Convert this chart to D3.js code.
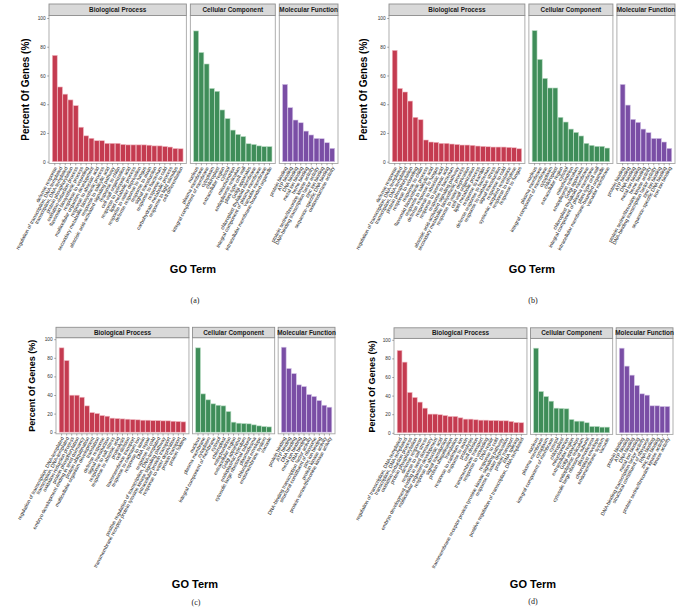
<!DOCTYPE html>
<html><head><meta charset="utf-8">
<script src="https://cdn.jsdelivr.net/npm/d3@7"></script>
<style>body{margin:0;background:#fff} svg{display:block}</style>
</head><body>
<svg id="chart" width="685" height="614"></svg>
<script>
// ---------- DATA ----------
const facetNames = ["Biological Process", "Cellular Component", "Molecular Function"];
const yTicks = [0, 20, 40, 60, 80, 100];
const captions = ["(a)", "(b)", "(c)", "(d)"];

const aBPTerms = ["defense response","regulation of transcription, DNA-templated","transcription, DNA-templated","protein phosphorylation","oxidation-reduction process","flavonoid biosynthetic process","response to wounding","multicellular organism development","response to abscisic acid","secondary metabolite biosynthetic process","response to salicylic acid","abscisic acid-activated signaling pathway","response to chitin","cell wall organization","response to jasmonic acid","lipid metabolic process","response to water deprivation","defense response to fungus","response to auxin","signal transduction","response to bacterium","response to cold","carbohydrate metabolic process","response to light stimulus","cell differentiation"];
const aBPValues = [74,52,47,43,39,24,18,16.3,14.6,14.6,12.8,12.8,12.8,12,11.7,11.7,11.7,11.7,11.5,11,11,10.6,10.2,9.2,9];
const aCCTerms = ["nucleus","plasma membrane","integral component of membrane","cytoplasm","chloroplast","extracellular region","cytosol","mitochondrion","endoplasmic reticulum","plant-type cell wall","Golgi apparatus","chloroplast thylakoid membrane","integral component of plasma membrane","vacuolar membrane","intracellular membrane-bounded organelle"];
const aCCValues = [91,76,68,51,49,36,30,22,19,17.5,12.5,12,11,10.5,10.5];
const aMFTerms = ["protein binding","ATP binding","DNA binding","metal ion binding","heme binding","protein serine/threonine kinase activity","DNA-binding transcription factor activity","zinc ion binding","sequence-specific DNA binding","oxidoreductase activity"];
const aMFValues = [53.8,37.6,29,27.1,21.3,18.6,16.2,16,13.2,9.3];

const bBPTerms = ["defense response","regulation of transcription, DNA-templated","transcription, DNA-templated","protein phosphorylation","response to wounding","response to chitin","flavonoid biosynthetic process","response to salicylic acid","defense response to fungus","response to abscisic acid","response to jasmonic acid","response to bacterium","abscisic acid-activated signaling pathway","secondary metabolite biosynthetic process","response to water deprivation","cell wall organization","lipid metabolic process","response to karrikin","defense response to bacterium","response to oxidative stress","signal transduction","response to cold","systemic acquired resistance","response to ethylene","response to fungus"];
const bBPValues = [77.5,51,48.5,42.2,30.9,29.2,15.1,13.7,13.5,12.8,12.8,12.3,12,11.6,11.6,11.4,10.9,10.7,10.4,10.2,10.2,10.2,10,9.7,9];
const bCCTerms = ["nucleus","plasma membrane","integral component of membrane","cytoplasm","chloroplast","extracellular region","cytosol","mitochondrion","endoplasmic reticulum","Golgi apparatus","chloroplast thylakoid membrane","integral component of plasma membrane","plant-type cell wall","intracellular membrane-bounded organelle","vacuolar membrane"];
const bCCValues = [91.2,71.2,58,51.3,51.3,30.9,27.6,22.7,20.4,17.9,12.8,11.4,10.7,10.7,9.5];
const bMFTerms = ["protein binding","ATP binding","DNA binding","metal ion binding","heme binding","protein serine/threonine kinase activity","DNA-binding transcription factor activity","zinc ion binding","sequence-specific DNA binding","iron ion binding"];
const bMFValues = [53.8,39.4,29.5,27.4,22.7,20.2,16.2,16.2,13.7,9.3];

const cBPTerms = ["regulation of transcription, DNA-templated","transcription, DNA-templated","oxidation-reduction process","protein phosphorylation","embryo development ending in seed dormancy","protein ubiquitination","multicellular organism development","translation","defense response","signal transduction","response to salt stress","response to abscisic acid","proteolysis","cell division","transmembrane transport","response to cadmium ion","response to auxin","DNA repair","response to cold","positive regulation of transcription, DNA-templated","transmembrane receptor protein tyrosine kinase signaling pathway","intracellular protein transport","response to water deprivation","protein transport","protein folding"];
const cBPValues = [90.7,77,39.8,39.8,37.6,28.3,21.1,20.1,17.9,17.2,15.1,14.7,14.3,14,13.6,13.3,12.9,12.9,12.5,12.5,12.2,12.2,11.8,11.5,11.1];
const cCCTerms = ["nucleus","plasma membrane","cytoplasm","integral component of membrane","cytosol","chloroplast","mitochondrion","extracellular region","Golgi apparatus","endoplasmic reticulum","cytosolic large ribosomal subunit","plasmodesma","chloroplast envelope","endomembrane system","vacuole"];
const cCCValues = [90.7,41.2,34.8,30.5,29,28.3,22.2,10.8,9.7,9.3,9,7.9,6.8,6.1,5.7];
const cMFTerms = ["protein binding","ATP binding","DNA binding","metal ion binding","RNA binding","DNA-binding transcription factor activity","structural constituent of ribosome","zinc ion binding","protein kinase activity","protein serine/threonine kinase activity"];
const cMFValues = [91.4,68.5,63,50.9,49.1,40.5,38.4,34,29,26.9];

const dBPTerms = ["regulation of transcription, DNA-templated","transcription, DNA-templated","oxidation-reduction process","protein phosphorylation","defense response","response to salt stress","embryo development ending in seed dormancy","multicellular organism development","response to abscisic acid","signal transduction","protein ubiquitination","translation","response to cadmium ion","response to auxin","proteolysis","cell division","transmembrane transport","response to wounding","DNA repair","response to cold","transmembrane receptor protein tyrosine kinase signaling pathway","response to water deprivation","protein transport","RNA splicing","positive regulation of transcription, DNA-templated"];
const dBPValues = [88.5,76,43.4,38,33,26.5,20.1,20.1,19.4,18.6,17.6,17.6,16.1,14.7,14.7,14,13.6,13.6,13.3,13.3,12.9,12.9,12.2,11.1,10.8];
const dCCTerms = ["nucleus","plasma membrane","cytoplasm","integral component of membrane","cytosol","chloroplast","mitochondrion","extracellular region","Golgi apparatus","endoplasmic reticulum","cytosolic large ribosomal subunit","plasmodesma","chloroplast envelope","endomembrane system","vacuole"];
const dCCValues = [91,44.4,39,34,26.5,26.2,25.8,14.3,12.5,12.5,10.8,6.8,6.8,6.1,6.1];
const dMFTerms = ["protein binding","ATP binding","DNA binding","metal ion binding","DNA-binding transcription factor activity","structural constituent of ribosome","RNA binding","zinc ion binding","protein serine/threonine kinase activity","kinase activity"];
const dMFValues = [91,71.7,62,50.9,41.9,40.5,29,29,28.3,28.3];

// ---------- STYLE / LAYOUT ----------
const fills = ["#c43b50", "#3f8d59", "#7a4ea5"];
const strokes = ["#f0b9c2", "#b9dcc4", "#d3c2e6"];

const layouts = [
  {left:49,  right:338, stripTop:4,   stripBot:15.5, y100:18,    y0:161.7, panelBot:163.5, ylabX:25,  yFont:10, xlabX:193, xlabY:273, capX:195, capY:303, gap:4},
  {left:389, right:675, stripTop:4,   stripBot:15.5, y100:18,    y0:161.7, panelBot:163.5, ylabX:363, yFont:10, xlabX:532, xlabY:273, capX:533, capY:303, gap:4},
  {left:56,  right:335, stripTop:327.3, stripBot:337.7, y100:339.2, y0:432.2, panelBot:433.8, ylabX:32, yFont:9, xlabX:195, xlabY:588, capX:196, capY:605, gap:3.5},
  {left:394, right:673, stripTop:327.8, stripBot:338.4, y100:339.8, y0:432.8, panelBot:434.4, ylabX:372, yFont:9, xlabX:533, xlabY:588, capX:533, capY:604, gap:3.5}
];

const figData = [
  [[aBPTerms,aBPValues],[aCCTerms,aCCValues],[aMFTerms,aMFValues]],
  [[bBPTerms,bBPValues],[bCCTerms,bCCValues],[bMFTerms,bMFValues]],
  [[cBPTerms,cBPValues],[cCCTerms,cCCValues],[cMFTerms,cMFValues]],
  [[dBPTerms,dBPValues],[dCCTerms,dCCValues],[dMFTerms,dMFValues]]
];

const svg = d3.select("#chart");
svg.append("rect").attr("width",685).attr("height",614).attr("fill","#fff");

figData.forEach((sets, fi) => {
  const L = layouts[fi];
  const g = svg.append("g");
  const y = d3.scaleLinear().domain([0,100]).range([L.y0, L.y100]);
  const expand = 0.6;
  const units = sets.map(s => s[0].length + 2*expand);
  const totalUnits = d3.sum(units);
  const unitPx = (L.right - L.left - 2*L.gap) / totalUnits;
  let x0 = L.left;
  sets.forEach((s, pi) => {
    const [terms, vals] = s;
    const w = units[pi]*unitPx;
    const pg = g.append("g");
    const x = d3.scaleBand().domain(terms)
      .range([x0 + expand*unitPx, x0 + w - expand*unitPx]).paddingInner(0.06).paddingOuter(0.03);
    pg.append("rect").attr("x",x0).attr("y",L.stripBot).attr("width",w).attr("height",L.panelBot-L.stripBot)
      .attr("fill","#fff");
    pg.selectAll("rect.bar").data(terms.map((t,i)=>({t, v:vals[i]}))).join("rect")
      .attr("class","bar")
      .attr("x", d => x(d.t)).attr("width", x.bandwidth())
      .attr("y", d => y(d.v)).attr("height", d => y(0) - y(d.v))
      .attr("fill", fills[pi]).attr("stroke", strokes[pi]).attr("stroke-width",0.6);
    pg.append("rect").attr("x",x0).attr("y",L.stripBot).attr("width",w).attr("height",L.panelBot-L.stripBot)
      .attr("fill","none").attr("stroke","#a6a6a6").attr("stroke-width",0.9);
    pg.append("rect").attr("x",x0).attr("y",L.stripTop).attr("width",w).attr("height",L.stripBot-L.stripTop)
      .attr("fill","#d9d9d9").attr("stroke","#8f8f8f").attr("stroke-width",0.9);
    pg.append("text").attr("x", x0 + w/2).attr("y",(L.stripTop+L.stripBot)/2)
      .attr("dy","0.35em").attr("text-anchor","middle")
      .style("font-family","'Liberation Sans', Arial, sans-serif").style("font-size","6.4px").style("font-weight","bold")
      .attr("fill","#1a1a1a").text(facetNames[pi]);
    const xa = pg.append("g").attr("transform",`translate(0,${L.panelBot})`)
      .call(d3.axisBottom(x).tickSize(1.8).tickPadding(1));
    xa.select(".domain").remove();
    xa.selectAll(".tick line").attr("stroke","#555").attr("stroke-width",0.5);
    xa.selectAll(".tick text")
      .attr("x",0).attr("y",0).attr("dy","0.35em")
      .attr("transform","translate(1,3.4) rotate(-62)")
      .style("text-anchor","end")
      .style("font-family","'Liberation Sans', Arial, sans-serif").style("font-size","5px")
      .attr("fill","#222");
    x0 += w + L.gap;
  });
  const ya = g.append("g").attr("transform",`translate(${L.left},0)`)
    .call(d3.axisLeft(y).tickValues(yTicks).tickSize(1.8).tickPadding(1.5));
  ya.select(".domain").remove();
  ya.selectAll(".tick line").attr("stroke","#555").attr("stroke-width",0.5);
  ya.selectAll(".tick text").style("font-family","'Liberation Sans', Arial, sans-serif")
    .style("font-size","4.8px").attr("fill","#333");
  g.append("text").attr("transform",`translate(${L.ylabX},${(L.stripBot+L.panelBot)/2}) rotate(-90)`)
    .attr("text-anchor","middle").attr("dy","0.35em")
    .style("font-family","'Liberation Sans', Arial, sans-serif").style("font-size",L.yFont+"px").style("font-weight","bold")
    .attr("fill","#000").text("Percent Of Genes (%)");
  g.append("text").attr("x",L.xlabX).attr("y",L.xlabY).attr("text-anchor","middle")
    .style("font-family","'Liberation Sans', Arial, sans-serif").style("font-size","11px").style("font-weight","bold")
    .attr("fill","#000").text("GO Term");
  g.append("text").attr("x",L.capX).attr("y",L.capY).attr("text-anchor","middle")
    .style("font-family","'Liberation Serif', 'Times New Roman', serif").style("font-size","8px")
    .attr("fill","#222").text(captions[fi]);
});
</script>
</body></html>
